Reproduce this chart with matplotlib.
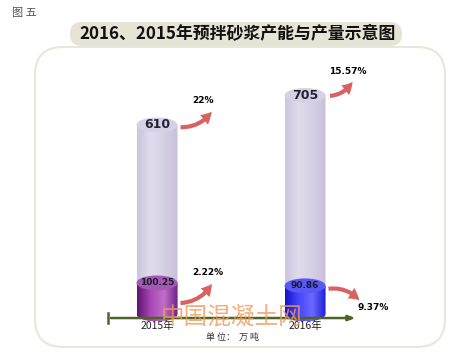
import numpy as np
import matplotlib
matplotlib.use('Agg')
import matplotlib.pyplot as plt
from matplotlib.patches import Ellipse, FancyBboxPatch, FancyArrowPatch, PathPatch
from matplotlib.path import Path
from matplotlib.colors import LinearSegmentedColormap

plt.rcParams['font.family'] = ['Noto Sans CJK SC', 'DejaVu Sans']

# 数据
years = ['2015年', '2016年']
capacity = [610, 705]          # 产能 (万吨)
output = [100.25, 90.86]       # 产量 (万吨)
capacity_growth = ['22%', '15.57%']
output_growth = ['2.22%', '9.37%']

fig = plt.figure(figsize=(4.62, 3.58), dpi=100)

# 背景层 (像素坐标)
bg = fig.add_axes([0, 0, 1, 1], zorder=0)
bg.set_xlim(0, 462)
bg.set_ylim(0, 358)
bg.axis('off')

frame = FancyBboxPatch((35, 11), 410, 300, boxstyle='round,pad=0,rounding_size=28',
                       fc='white', ec='#e8e8da', lw=1.5)
bg.add_patch(frame)
title_box = FancyBboxPatch((70, 312), 332, 24, boxstyle='round,pad=0,rounding_size=12',
                           fc='#e6e3d7', ec='none')
bg.add_patch(title_box)
bg.text(238, 324, '2016、2015年预拌砂浆产能与产量示意图', ha='center', va='center',
        fontsize=12.2, fontweight='bold', color='#111111')
bg.text(12, 345, '图 五', ha='left', va='center', fontsize=8, color='#555555')
bg.text(232, 21, '单 位：  万 吨', ha='center', va='center', fontsize=6.5, color='#333333')

# 柱体层 (数据坐标)
ax = fig.add_axes([83 / 462, 13 / 358, 296 / 462, 279 / 358], zorder=1)
ax.patch.set_alpha(0)
ax.axis('off')

w = 0.277
eh = 48

def cylinder(x, h, colors, top_color, z):
    cmap = LinearSegmentedColormap.from_list('c', colors)
    t = np.linspace(0, np.pi, 40)
    arc_x = x + w / 2 * np.cos(t)
    arc_y = -eh / 2 * np.sin(t)
    verts = [(x - w / 2, h), (x + w / 2, h)] + list(zip(arc_x, arc_y)) + [(x - w / 2, h)]
    codes = [Path.MOVETO] + [Path.LINETO] * (len(verts) - 2) + [Path.CLOSEPOLY]
    body = PathPatch(Path(verts, codes), fc='none', ec='none')
    ax.add_patch(body)
    grad = np.linspace(0, 1, 64).reshape(1, -1)
    im = ax.imshow(grad, cmap=cmap, extent=[x - w / 2, x + w / 2, -eh / 2, h],
                   aspect='auto', zorder=z, interpolation='bilinear')
    im.set_clip_path(body)
    ax.add_patch(Ellipse((x, h), w, eh, fc=top_color, ec='none', zorder=z + 0.1))

arrow_kw = dict(arrowstyle='simple,head_width=0.9,head_length=0.8,tail_width=0.3',
                mutation_scale=10, color='#d86262', lw=0, zorder=6)

for i in range(len(years)):
    cylinder(i, capacity[i], ['#ccc5de', '#e0dcec', '#d6d0e5', '#c8c0da'], '#d7d1e6', 2)
    if i == 0:
        cylinder(i, output[i], ['#5e1470', '#a848b4', '#c070c8', '#70208a'], '#a458b4', 3)
    else:
        cylinder(i, output[i], ['#1414c8', '#4646ff', '#6a6aff', '#2020d8'], '#5858f4', 3)

    ax.text(i, capacity[i], str(capacity[i]), ha='center', va='center',
            fontsize=9, fontweight='bold', color='#222233', zorder=5, family='DejaVu Sans')
    ax.text(i, output[i], f'{output[i]:.2f}', ha='center', va='center',
            fontsize=6.5, fontweight='bold', color='#1a1a33', zorder=5, family='DejaVu Sans')
    ax.text(i, -40, years[i], ha='center', va='center', fontsize=7.5,
            color='#222222', zorder=5)

# 增长率箭头
ax.add_patch(FancyArrowPatch((0.14, 603), (0.38, 660), connectionstyle='arc3,rad=0.3', **arrow_kw))
ax.text(0.31, 690, capacity_growth[0], ha='center', va='center', fontsize=6.5,
        fontweight='bold', family='DejaVu Sans', zorder=5)
ax.add_patch(FancyArrowPatch((0.14, 35), (0.38, 105), connectionstyle='arc3,rad=0.3', **arrow_kw))
ax.text(0.34, 135, output_growth[0], ha='center', va='center', fontsize=6.5,
        fontweight='bold', family='DejaVu Sans', zorder=5)
ax.add_patch(FancyArrowPatch((1.15, 703), (1.33, 757), connectionstyle='arc3,rad=0.3', **arrow_kw))
ax.text(1.29, 783, capacity_growth[1], ha='center', va='center', fontsize=6.5,
        fontweight='bold', family='DejaVu Sans', zorder=5)
ax.add_patch(FancyArrowPatch((1.14, 80), (1.38, 37), connectionstyle='arc3,rad=-0.3', **arrow_kw))
ax.text(1.46, 22, output_growth[1], ha='center', va='center', fontsize=6.5,
        fontweight='bold', family='DejaVu Sans', zorder=5)

# 横轴
ax.add_patch(FancyArrowPatch((-0.33, -13), (1.36, -13), arrowstyle='-|>,head_width=0.15,head_length=0.4',
                             mutation_scale=10, color='#4f6228', lw=1.8, zorder=4))
ax.plot([-0.33, -0.33], [-30, 4], color='#4f6228', lw=1.8, zorder=4)

ax.set_xlim(-0.5, 1.5)
ax.set_ylim(-100, 800)

# 水印
fig.text(232 / 462, 1 - 318 / 358, '中国混凝土网', ha='center', va='center',
         fontsize=17, color='#f09a5a', alpha=0.8, zorder=10)

fig.savefig('out.png', dpi=100)
